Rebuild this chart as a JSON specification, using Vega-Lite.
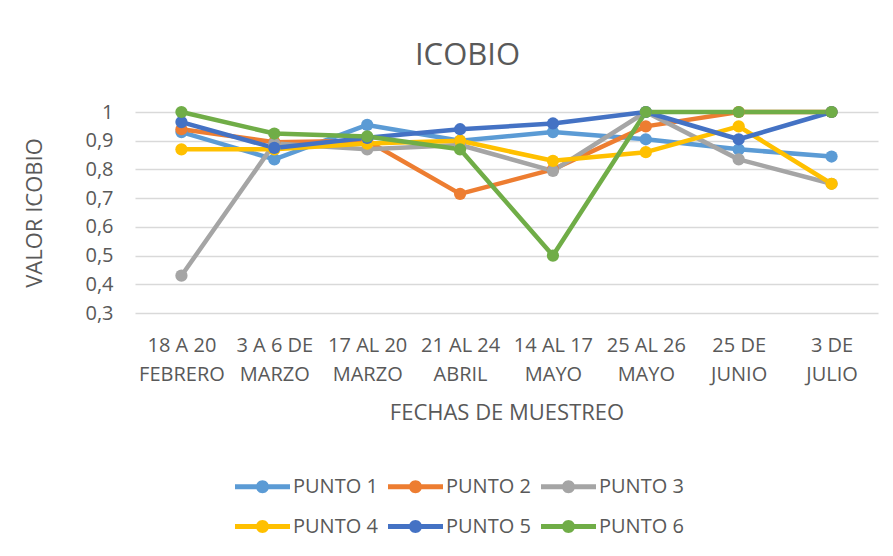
{
  "$schema": "https://vega.github.io/schema/vega-lite/v6.json",
  "width": 743,
  "height": 201,
  "autosize": {"type": "none"},
  "padding": {"left": 135, "top": 112, "right": 15, "bottom": 243},
  "background": "white",
  "title": {
    "text": "ICOBIO",
    "font": "Open Sans",
    "fontSize": 31,
    "fontWeight": "normal",
    "color": "#595959",
    "anchor": "middle",
    "dx": -39,
    "offset": 30
  },
  "config": {
    "view": {"stroke": null},
    "font": "Open Sans"
  },
  "resolve": {"legend": {"color": "independent"}},
  "data": {
    "values": [
      {"fecha": "18 A 20|FEBRERO", "punto": "PUNTO 1", "valor": 0.93},
      {"fecha": "3 A 6 DE|MARZO", "punto": "PUNTO 1", "valor": 0.835},
      {"fecha": "17 AL 20|MARZO", "punto": "PUNTO 1", "valor": 0.955},
      {"fecha": "21 AL 24|ABRIL", "punto": "PUNTO 1", "valor": 0.9},
      {"fecha": "14 AL 17|MAYO", "punto": "PUNTO 1", "valor": 0.93},
      {"fecha": "25 AL 26|MAYO", "punto": "PUNTO 1", "valor": 0.905},
      {"fecha": "25 DE|JUNIO", "punto": "PUNTO 1", "valor": 0.87},
      {"fecha": "3 DE|JULIO", "punto": "PUNTO 1", "valor": 0.845},
      {"fecha": "18 A 20|FEBRERO", "punto": "PUNTO 2", "valor": 0.94},
      {"fecha": "3 A 6 DE|MARZO", "punto": "PUNTO 2", "valor": 0.895},
      {"fecha": "17 AL 20|MARZO", "punto": "PUNTO 2", "valor": 0.9},
      {"fecha": "21 AL 24|ABRIL", "punto": "PUNTO 2", "valor": 0.715},
      {"fecha": "14 AL 17|MAYO", "punto": "PUNTO 2", "valor": 0.8},
      {"fecha": "25 AL 26|MAYO", "punto": "PUNTO 2", "valor": 0.95},
      {"fecha": "25 DE|JUNIO", "punto": "PUNTO 2", "valor": 1.0},
      {"fecha": "3 DE|JULIO", "punto": "PUNTO 2", "valor": 1.0},
      {"fecha": "18 A 20|FEBRERO", "punto": "PUNTO 3", "valor": 0.43},
      {"fecha": "3 A 6 DE|MARZO", "punto": "PUNTO 3", "valor": 0.89},
      {"fecha": "17 AL 20|MARZO", "punto": "PUNTO 3", "valor": 0.87},
      {"fecha": "21 AL 24|ABRIL", "punto": "PUNTO 3", "valor": 0.885},
      {"fecha": "14 AL 17|MAYO", "punto": "PUNTO 3", "valor": 0.795},
      {"fecha": "25 AL 26|MAYO", "punto": "PUNTO 3", "valor": 1.0},
      {"fecha": "25 DE|JUNIO", "punto": "PUNTO 3", "valor": 0.835},
      {"fecha": "3 DE|JULIO", "punto": "PUNTO 3", "valor": 0.75},
      {"fecha": "18 A 20|FEBRERO", "punto": "PUNTO 4", "valor": 0.87},
      {"fecha": "3 A 6 DE|MARZO", "punto": "PUNTO 4", "valor": 0.87},
      {"fecha": "17 AL 20|MARZO", "punto": "PUNTO 4", "valor": 0.89},
      {"fecha": "21 AL 24|ABRIL", "punto": "PUNTO 4", "valor": 0.9},
      {"fecha": "14 AL 17|MAYO", "punto": "PUNTO 4", "valor": 0.83},
      {"fecha": "25 AL 26|MAYO", "punto": "PUNTO 4", "valor": 0.86},
      {"fecha": "25 DE|JUNIO", "punto": "PUNTO 4", "valor": 0.95},
      {"fecha": "3 DE|JULIO", "punto": "PUNTO 4", "valor": 0.75},
      {"fecha": "18 A 20|FEBRERO", "punto": "PUNTO 5", "valor": 0.965},
      {"fecha": "3 A 6 DE|MARZO", "punto": "PUNTO 5", "valor": 0.875},
      {"fecha": "17 AL 20|MARZO", "punto": "PUNTO 5", "valor": 0.91},
      {"fecha": "21 AL 24|ABRIL", "punto": "PUNTO 5", "valor": 0.94},
      {"fecha": "14 AL 17|MAYO", "punto": "PUNTO 5", "valor": 0.96},
      {"fecha": "25 AL 26|MAYO", "punto": "PUNTO 5", "valor": 1.0},
      {"fecha": "25 DE|JUNIO", "punto": "PUNTO 5", "valor": 0.905},
      {"fecha": "3 DE|JULIO", "punto": "PUNTO 5", "valor": 1.0},
      {"fecha": "18 A 20|FEBRERO", "punto": "PUNTO 6", "valor": 1.0},
      {"fecha": "3 A 6 DE|MARZO", "punto": "PUNTO 6", "valor": 0.925},
      {"fecha": "17 AL 20|MARZO", "punto": "PUNTO 6", "valor": 0.915},
      {"fecha": "21 AL 24|ABRIL", "punto": "PUNTO 6", "valor": 0.87},
      {"fecha": "14 AL 17|MAYO", "punto": "PUNTO 6", "valor": 0.5},
      {"fecha": "25 AL 26|MAYO", "punto": "PUNTO 6", "valor": 1.0},
      {"fecha": "25 DE|JUNIO", "punto": "PUNTO 6", "valor": 1.0},
      {"fecha": "3 DE|JULIO", "punto": "PUNTO 6", "valor": 1.0}
    ]
  },
  "encoding": {
    "x": {
      "field": "fecha",
      "type": "ordinal",
      "sort": null,
      "scale": {"type": "point", "padding": 0.5},
      "axis": {
        "title": "FECHAS DE MUESTREO",
        "titleFont": "Open Sans",
        "titleFontSize": 22,
        "titleFontWeight": "normal",
        "titleColor": "#595959",
        "titlePadding": 18,
        "labelExpr": "split(datum.value, '|')",
        "labelFont": "Open Sans",
        "labelFontSize": 20,
        "labelColor": "#595959",
        "labelLineHeight": 29,
        "labelPadding": 22,
        "labelAngle": 0,
        "labelBaseline": "top",
        "domain": false,
        "ticks": false,
        "grid": false
      }
    },
    "y": {
      "field": "valor",
      "type": "quantitative",
      "scale": {"domain": [0.3, 1], "nice": false, "zero": false},
      "axis": {
        "title": "VALOR ICOBIO",
        "titleFont": "Open Sans",
        "titleFontSize": 22,
        "titleFontWeight": "normal",
        "titleColor": "#595959",
        "titlePadding": 38,
        "values": [0.3, 0.4, 0.5, 0.6, 0.7, 0.8, 0.9, 1],
        "labelExpr": "replace(format(datum.value, '.1~f'), '.', ',')",
        "labelFont": "Open Sans",
        "labelFontSize": 20,
        "labelColor": "#595959",
        "labelPadding": 22,
        "domain": false,
        "ticks": false,
        "grid": true,
        "gridColor": "#d9d9d9",
        "gridWidth": 1.3
      }
    }
  },
  "layer": [
    {
      "mark": {"type": "line", "strokeWidth": 4.5, "strokeCap": "round", "strokeJoin": "round"},
      "encoding": {
        "color": {
          "field": "punto",
          "type": "nominal",
          "scale": {
            "domain": ["PUNTO 1", "PUNTO 2", "PUNTO 3", "PUNTO 4", "PUNTO 5", "PUNTO 6"],
            "range": ["#5B9BD5", "#ED7D31", "#A5A5A5", "#FFC000", "#4472C4", "#70AD47"]
          },
          "legend": null
        }
      }
    },
    {
      "mark": {"type": "point", "filled": true, "size": 150, "opacity": 1},
      "encoding": {
        "color": {
          "field": "punto",
          "type": "nominal",
          "scale": {
            "domain": ["PUNTO 1", "PUNTO 2", "PUNTO 3", "PUNTO 4", "PUNTO 5", "PUNTO 6"],
            "range": ["#5B9BD5", "#ED7D31", "#A5A5A5", "#FFC000", "#4472C4", "#70AD47"]
          },
          "legend": {
            "title": null,
            "orient": "none",
            "direction": "horizontal",
            "columns": 3,
            "legendX": 100,
            "legendY": 347,
            "symbolType": "M-1,-0.09H-0.2V0.09H-1Z M0.2,-0.09H1V0.09H0.2Z M0.236,0A0.236,0.236 0 1,1 -0.236,0A0.236,0.236 0 1,1 0.236,0Z",
            "symbolSize": 3025,
            "symbolStrokeWidth": 0,
            "symbolOpacity": 1,
            "labelFont": "Open Sans",
            "labelFontSize": 20,
            "labelColor": "#595959",
            "labelOffset": 3,
            "columnPadding": 10,
            "rowPadding": 2,
            "labelLimit": 200
          }
        }
      }
    }
  ]
}
